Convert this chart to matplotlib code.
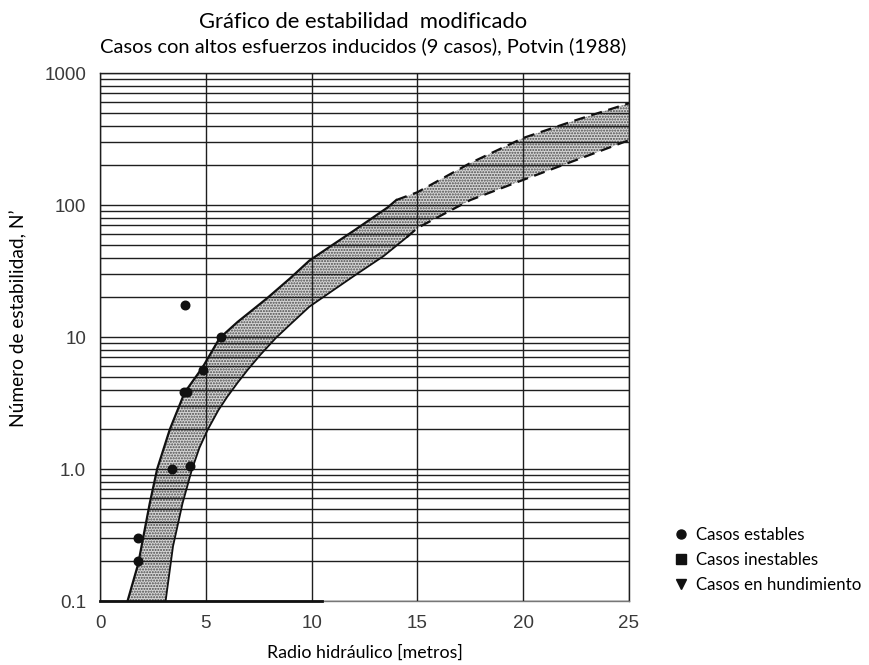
import matplotlib
matplotlib.use("Agg")
import matplotlib.pyplot as plt
import matplotlib.ticker as tck
from matplotlib.lines import Line2D

# Upper limit of the transition zone (solid part, then dashed extrapolation)
upper_x = [1.3, 1.8, 2.35, 2.7, 3.3, 4.0, 4.85, 5.65, 6.5, 7.9, 9.0, 9.9, 11.0, 12.0, 13.6, 14.0]
upper_n = [0.1, 0.19, 0.55, 1.0, 2.0, 3.8, 5.9, 9.8, 13.0, 19.7, 28.0, 38.0, 50.0, 64.0, 96.0, 109]
upper_dash_x = [14.0, 15.0, 17.5, 20.0, 22.5, 25.0]
upper_dash_n = [109, 125, 208, 322, 440, 590]

# Lower limit of the transition zone
lower_x = [3.1, 3.45, 3.9, 4.35, 4.7, 5.1, 5.6, 6.0, 6.5, 7.0, 7.6, 8.3, 9.0, 9.9, 11.0, 12.0, 13.4, 14.5]
lower_n = [0.1, 0.26, 0.55, 1.0, 1.45, 2.0, 2.8, 3.5, 4.5, 5.7, 7.4, 9.8, 12.5, 17.0, 22.5, 29.0, 41.0, 57.0]
lower_dash_x = [14.5, 15.0, 17.5, 20.0, 22.5, 25.0]
lower_dash_n = [57.0, 67.0, 109, 155, 219, 310]

# Stable cases (9 casos)
estables_rh = [4.0, 5.7, 4.87, 3.95, 4.1, 3.4, 4.25, 1.8, 1.8]
estables_n = [17.5, 10.0, 5.6, 3.8, 3.8, 1.0, 1.05, 0.3, 0.2]

x_ticks = [0, 5, 10, 15, 20, 25]
y_ticks = [0.1, 1, 10, 100, 1000]
y_tick_labels = ["0.1", "1.0", "10", "100", "1000"]

fig = plt.figure(figsize=(8.69, 6.65), dpi=100)
ax = fig.add_axes([0.1151, 0.0962, 0.6087, 0.794])

ax.set_yscale("log")
ax.set_xlim(0, 25)
ax.set_ylim(0.1, 1000)

# stippled band between both limits
poly_x = upper_x + upper_dash_x[1:] + lower_dash_x[::-1] + lower_x[::-1][1:]
poly_n = upper_n + upper_dash_n[1:] + lower_dash_n[::-1] + lower_n[::-1][1:]
plt.rcParams["hatch.linewidth"] = 1.0
ax.fill(poly_x, poly_n, facecolor="#d6d6d6", edgecolor="#4a4a4a",
        hatch="......", linewidth=0, zorder=1)

ax.plot(upper_x, upper_n, color="#111111", lw=1.6, zorder=3)
ax.plot(lower_x, lower_n, color="#111111", lw=1.3, zorder=3)
ax.plot(upper_dash_x, upper_dash_n, color="#111111", lw=1.6,
        dashes=(5, 3), zorder=3)
ax.plot(lower_dash_x, lower_dash_n, color="#111111", lw=1.6,
        dashes=(5, 3), zorder=3)

ax.scatter(estables_rh, estables_n, s=38, color="#111111", zorder=4)

# graph paper grid
ax.set_xticks(x_ticks)
ax.set_yticks(y_ticks)
ax.set_yticklabels(y_tick_labels)
ax.yaxis.set_minor_locator(tck.LogLocator(base=10, subs=range(2, 10)))
ax.yaxis.set_minor_formatter(tck.NullFormatter())
ax.grid(True, which="both", axis="y", color="#1e1e1e", lw=1.0, zorder=2)
ax.grid(True, which="major", axis="x", color="#1e1e1e", lw=1.0, zorder=2)
ax.set_axisbelow(False)
for side in ["left", "right", "top", "bottom"]:
    ax.spines[side].set_color("#1e1e1e")
    ax.spines[side].set_linewidth(1.0)
ax.spines["bottom"].set_color("#777777")
ax.plot([0, 10.5], [0.1, 0.1], color="#111111", lw=2.0, clip_on=False, zorder=5)

ax.tick_params(which="both", length=0, labelsize=13.5, labelcolor="#3a3a3a", pad=10)
for lab in ax.get_xticklabels() + ax.get_yticklabels():
    lab.set_family("Liberation Sans")

ax.set_xlabel("Radio hidráulico [metros]", family="Lato", fontsize=12.8,
              labelpad=9)
ax.set_ylabel("Número de estabilidad, N’", family="Lato", fontsize=13.8)
ax.yaxis.set_label_coords(-0.138, 0.536)

fig.text(0.418, 0.967, "Gráfico de estabilidad  modificado", family="Lato",
         fontsize=15.8, ha="center", va="center")
fig.text(0.418, 0.931, "Casos con altos esfuerzos inducidos (9 casos), Potvin (1988)",
         family="Lato", fontsize=14.5, ha="center", va="center")

handles = [
    Line2D([], [], ls="", marker="o", ms=6.5, color="#111111"),
    Line2D([], [], ls="", marker="s", ms=6.5, color="#111111"),
    Line2D([], [], ls="", marker="v", ms=6.5, color="#111111"),
]
labels = ["Casos estables", "Casos inestables", "Casos en hundimiento"]
fig.legend(handles, labels, loc="upper left", bbox_to_anchor=(0.762, 0.226),
           frameon=False, handlelength=0.8, handletextpad=0.5, labelspacing=0.55,
           borderpad=0.2, prop={"family": "Lato", "size": 12.2})

fig.savefig("out.png", dpi=100)
